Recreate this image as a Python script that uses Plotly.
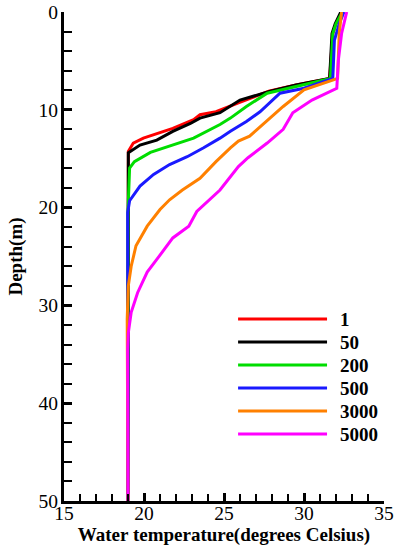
import plotly.graph_objects as go

# ---- data (depth in m, temperature in degrees Celsius) ----
names = ["1", "50", "200", "500", "3000", "5000"]
colors = ["#ff0000", "#000000", "#00dd00", "#1a1aff", "#ff8000", "#ff00ff"]

depth_1 = [0, 1.2, 2.2, 4.9, 6.8, 7.45, 8.1, 9.3, 10.2, 10.5, 11.0, 11.9, 12.9, 13.4, 14.25, 50]
temp_1 = [32.4, 32.0, 31.8, 31.7, 31.6, 29.5, 27.8, 25.9, 24.5, 23.5, 23.1, 21.8, 19.96, 19.33, 19.02, 19.0]

depth_50 = [0, 1.2, 2.2, 4.9, 6.8, 7.45, 8.1, 9.0, 9.66, 10.3, 10.85, 11.4, 12.2, 13.1, 13.6, 14.4, 50]
temp_50 = [32.3, 31.95, 31.75, 31.65, 31.6, 29.5, 27.9, 26.0, 25.4, 24.75, 23.5, 22.9, 21.8, 20.8, 19.75, 19.02, 19.0]

depth_200 = [0, 1.2, 2.2, 4.9, 6.8, 8.3, 9.66, 10.85, 11.5, 12.9, 13.7, 14.35, 15.3, 15.95, 20.3, 50]
temp_200 = [32.4, 32.0, 31.8, 31.7, 31.65, 27.7, 26.4, 25.4, 24.75, 23.1, 21.6, 20.4, 19.4, 19.1, 19.0, 19.0]

depth_500 = [0, 1.2, 2.9, 6.8, 7.8, 8.3, 10.2, 11.2, 12.2, 12.9, 13.9, 14.8, 15.6, 16.6, 17.8, 19.3, 20.5, 50]
temp_500 = [32.5, 32.2, 31.9, 31.8, 30.0, 28.5, 27.25, 26.4, 25.4, 24.75, 23.7, 22.7, 21.6, 20.6, 19.75, 19.1, 18.98, 19.0]

depth_3000 = [0, 2.2, 6.8, 7.96, 9.66, 11.4, 12.7, 13.2, 13.9, 15.3, 17.0, 18.2, 19.2, 20.2, 21.9, 23.9, 26.0, 28.0, 31.4, 50]
temp_3000 = [32.35, 32.2, 32.1, 30.0, 28.7, 27.5, 26.6, 25.9, 25.4, 24.5, 23.5, 22.4, 21.6, 21.0, 20.2, 19.5, 19.2, 19.02, 18.95, 19.0]

depth_5000 = [0, 2.2, 4.9, 6.9, 7.8, 9.0, 10.3, 12.0, 13.4, 14.9, 15.8, 18.2, 19.2, 20.4, 21.9, 23.1, 25.3, 26.6, 28.7, 30.7, 32.8, 34.5, 50]
temp_5000 = [32.67, 32.35, 32.15, 32.05, 32.05, 30.5, 29.3, 28.7, 27.7, 26.5, 25.9, 24.75, 24.1, 23.3, 22.8, 21.8, 20.8, 20.2, 19.6, 19.2, 19.02, 18.98, 19.0]

x_ticks = [15, 20, 25, 30, 35]
y_ticks = [0, 10, 20, 30, 40, 50]

series = [
    (temp_1, depth_1),
    (temp_50, depth_50),
    (temp_200, depth_200),
    (temp_500, depth_500),
    (temp_3000, depth_3000),
    (temp_5000, depth_5000),
]

fig = go.Figure()
for (t, d), n, c in zip(series, names, colors):
    fig.add_trace(go.Scatter(x=t, y=d, mode="lines", name=n,
                             line=dict(color=c, width=3), showlegend=False))

# custom legend (long keys as in the reference)
shapes = []
annotations = []
y0 = 0.372
step = 0.047
for i, (n, c) in enumerate(zip(names, colors)):
    yy = y0 - i * step
    shapes.append(dict(type="line", xref="paper", yref="paper",
                       x0=0.544, x1=0.822, y0=yy, y1=yy,
                       line=dict(color=c, width=3)))
    annotations.append(dict(xref="paper", yref="paper", x=0.857, y=yy,
                            text="<b>%s</b>" % n, showarrow=False,
                            xanchor="left", yanchor="middle",
                            font=dict(family="Liberation Serif", size=19, color="black")))

serif = "Liberation Serif"
fig.update_layout(
    width=398, height=550,
    margin=dict(l=64, r=14, t=12, b=49),
    plot_bgcolor="white", paper_bgcolor="white",
    shapes=shapes, annotations=annotations,
    font=dict(family=serif, size=19, color="black"),
    xaxis=dict(
        range=[15, 35], tickvals=x_ticks, ticktext=[str(v) for v in x_ticks],
        showline=True, linecolor="black", linewidth=3, mirror=False,
        ticks="inside", ticklen=8, tickwidth=3, tickcolor="black",
        minor=dict(ticks="inside", dtick=1, ticklen=7, tickwidth=1.5, tickcolor="black", showgrid=False),
        showgrid=False, zeroline=False, ticklabelstandoff=-7, automargin=False,
        title=dict(text="<b>Water temperature(degrees Celsius)</b>", font=dict(family=serif, size=19), standoff=0),
        tickfont=dict(family=serif, size=19.5),
    ),
    yaxis=dict(
        range=[50, 0], tickvals=y_ticks, ticktext=[str(v) for v in y_ticks],
        showline=True, linecolor="black", linewidth=3, mirror=False,
        ticks="inside", ticklen=8, tickwidth=3, tickcolor="black",
        minor=dict(ticks="inside", dtick=2, ticklen=8, tickwidth=1.5, tickcolor="black", showgrid=False),
        showgrid=False, zeroline=False, ticklabelstandoff=-1, automargin=False,
        title=dict(text="<b>Depth(m)</b>", font=dict(family=serif, size=19), standoff=11),
        tickfont=dict(family=serif, size=19.5),
    ),
)

fig.write_html("out.html", config={"displayModeBar": False},
               post_script="document.body.style.margin='0';document.body.style.overflow='hidden';")
